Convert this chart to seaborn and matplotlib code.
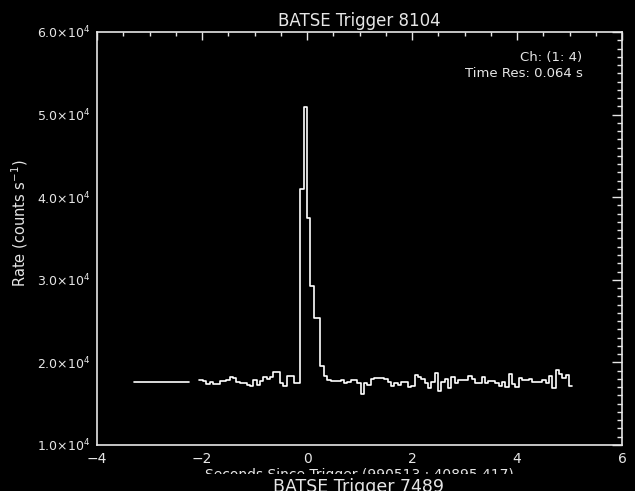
import matplotlib
matplotlib.use("Agg")
import matplotlib.pyplot as plt
import matplotlib.ticker as mticker
from matplotlib.patches import Rectangle
import numpy as np
import pandas as pd
import seaborn as sns

# --- data (64 ms bins, counts/s) ---
bin_width = 0.064
first_edge = -2.048
rates = [
    17900, 17800, 17350, 17630, 17430, 17430, 17700, 17700, 17820, 18190,
    18100, 17630, 17550, 17550, 17300, 17180, 17820, 17300, 17700, 18190,
    17980, 18190, 18830, 18830, 17470, 17140, 18350, 18350, 17500, 17500,
    40970, 50900, 37470, 29300, 25380, 25380, 19600, 18300, 17870, 17750,
    17750, 17750, 17870, 17470, 17600, 17870, 17870, 17470, 16180, 17470,
    17265, 17990, 18070, 18150, 18100, 17990, 17660, 17140, 17550, 17265,
    17670, 17670, 17064, 17144, 18470, 18270, 17948, 17546, 16863, 17666,
    18670, 16542, 17666, 17948, 16863, 18270, 17466, 17867, 17867, 17867,
    18390, 17988, 17466, 17466, 18190, 17550, 17790, 17790, 17470, 17140,
    17670, 17060, 18590, 17385, 17060, 18070, 17870, 17870, 17950, 17670,
    17670, 17670, 17870, 17550, 18350, 16860, 19070, 18590, 18070, 18430,
    17140,
]
# pre-trigger (1.024 s) background segment
pre_times = [-3.30, -2.25]
pre_rates = [17600, 17600]

title = "BATSE Trigger 8104"
next_title = "BATSE Trigger 7489"
xlabel = "Seconds Since Trigger (990513 : 40895.417)"
ylabel = r"Rate (counts s$^{-1}$)"
info = "Ch: (1: 4)\nTime Res: 0.064 s"

fg = "#e6e6e6"

sns.set_theme(style="dark", rc={
    "figure.facecolor": "black",
    "axes.facecolor": "black",
    "axes.edgecolor": fg,
    "axes.labelcolor": fg,
    "text.color": fg,
    "xtick.color": fg,
    "ytick.color": fg,
    "axes.grid": False,
    "mathtext.default": "regular",
})
plt.rcParams["font.family"] = ["DejaVu Sans"]

edges = first_edge + bin_width * np.arange(len(rates) + 1)
df = pd.DataFrame({"t": edges, "rate": rates + [rates[-1]]})
pre = pd.DataFrame({"t": pre_times, "rate": pre_rates})

fig = plt.figure(figsize=(6.35, 4.91), dpi=100)
ax = fig.add_axes([97 / 635, 1 - 445 / 491, 525 / 635, 413 / 491])

sns.lineplot(data=df, x="t", y="rate", drawstyle="steps-post", sort=False,
             estimator=None, color="white", linewidth=1.2, ax=ax)
sns.lineplot(data=pre, x="t", y="rate", sort=False, estimator=None,
             color="white", linewidth=1.2, ax=ax)

ax.set_xlim(-4, 6)
ax.set_ylim(1.0e4, 6.0e4)
ax.xaxis.set_major_locator(mticker.MultipleLocator(2))
ax.xaxis.set_minor_locator(mticker.MultipleLocator(0.5))
ax.yaxis.set_major_locator(mticker.MultipleLocator(1e4))
ax.yaxis.set_minor_locator(mticker.MultipleLocator(1e3))
ax.yaxis.set_major_formatter(mticker.FuncFormatter(
    lambda v, p: r"$%.1f{\times}10^{4}$" % (v / 1e4)))
ax.xaxis.set_major_formatter(mticker.FuncFormatter(
    lambda v, p: ("%d" % v).replace("-", "\u2212")))

ax.tick_params(axis="both", which="both", direction="in",
               top=True, right=True, width=1)
ax.tick_params(axis="x", which="major", length=6, pad=5, labelsize=10)
ax.tick_params(axis="x", which="minor", length=3)
ax.tick_params(axis="y", which="major", length=7, pad=5, labelsize=9)
ax.tick_params(axis="y", which="minor", length=3.6)
for s in ax.spines.values():
    s.set_linewidth(1.2)
    s.set_color(fg)

ax.set_xlabel("")
ax.set_ylabel("")
ax.set_title(title, fontsize=12, color=fg, pad=4)
fig.text(20 / 635, 1 - 223 / 491, ylabel, rotation=90, fontsize=10.5,
         ha="center", va="center")
ax.text(0.925, 0.955, info, transform=ax.transAxes, ha="right", va="top",
        fontsize=9.5, linespacing=1.3, multialignment="right")

# x label, partly hidden behind the next panel
fig.text(359 / 635, 1 - 468 / 491, xlabel, ha="center", va="top", fontsize=10)
fig.add_artist(Rectangle((0, 0), 1, (491 - 474) / 491, transform=fig.transFigure,
                         facecolor="black", edgecolor="none", zorder=5))
fig.text(359 / 635, 1 - 478 / 491, next_title, ha="center", va="top",
         fontsize=12.5, zorder=6)

fig.savefig("out.png", dpi=100, facecolor="black")
